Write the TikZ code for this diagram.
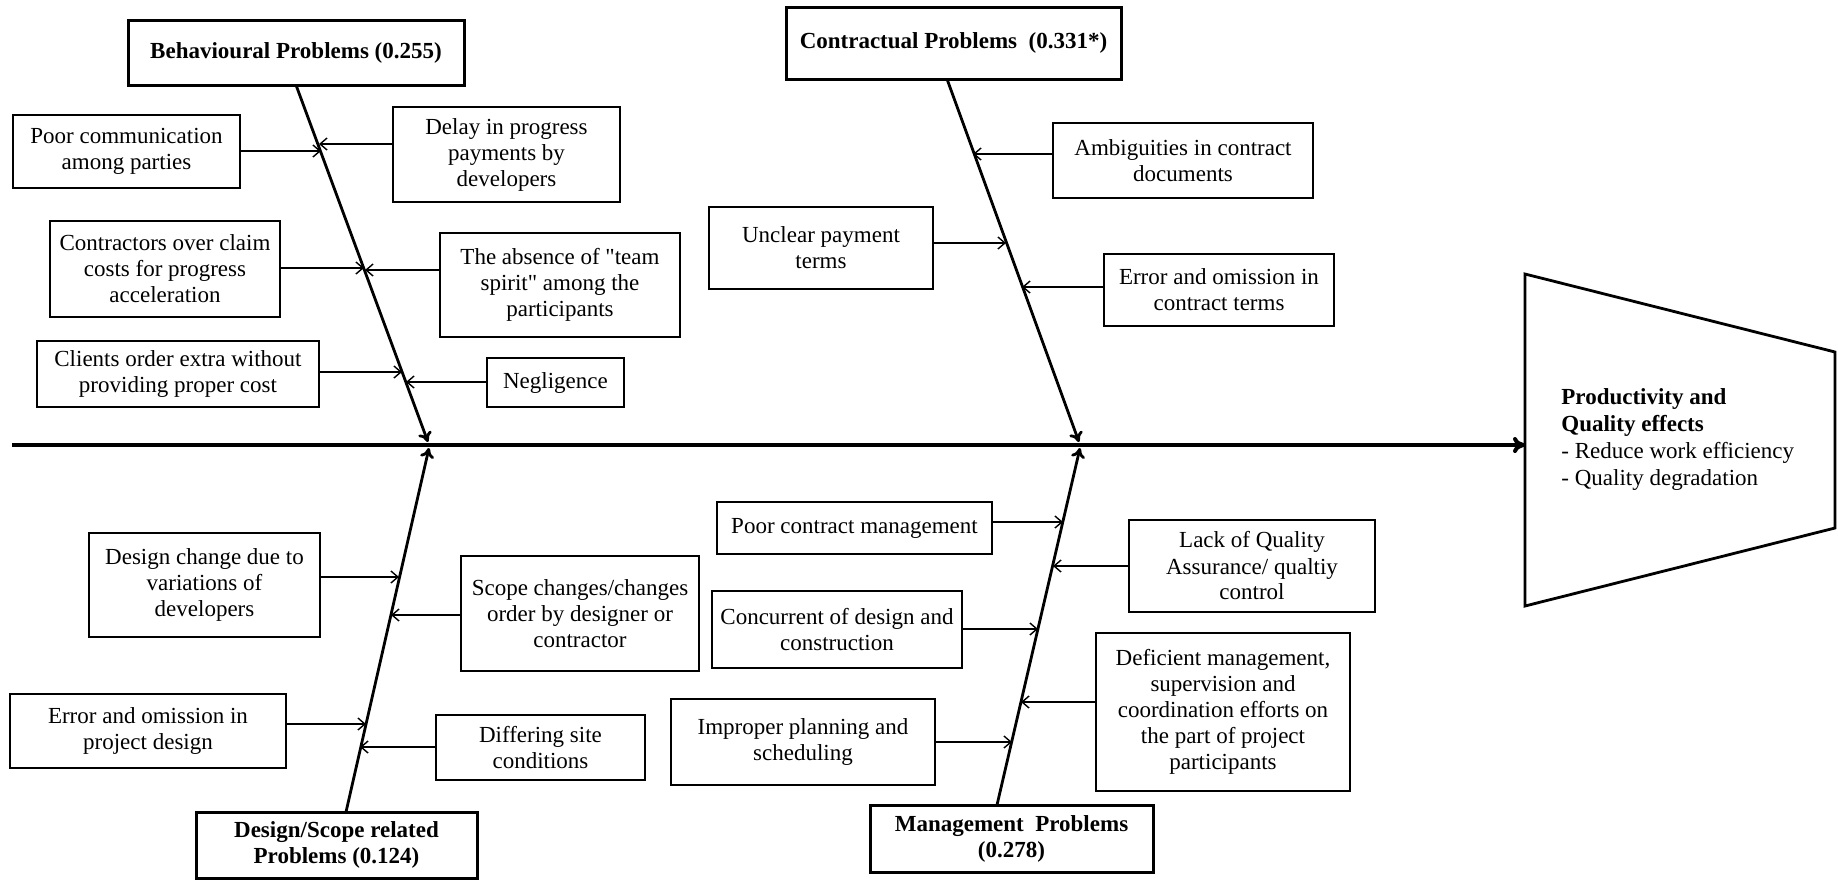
\documentclass[tikz,border=0pt]{standalone}
\usepackage{fontspec}
\setmainfont{Liberation Serif}[Ligatures=TeXOff]
\usetikzlibrary{arrows.meta}
% box drawn from its corners: style, name, x1, y1, x2, y2, text
\newcommand\fishbox[7]{%
  \pgfmathsetmacro\fbw{(#5-#3)*0.5}%
  \pgfmathsetmacro\fbh{(#6-#4)*0.5}%
  \node[#1, minimum width=\fbw pt, minimum height=\fbh pt] (#2) at ({(#3+#5)/2},{(#4+#6)/2}) {#7};}
\begin{document}
\begin{tikzpicture}[x=0.5pt,y=-0.5pt,
  txt/.style={font=\fontsize{11.5}{13}\selectfont, align=center},
  head/.style={draw, line width=1.5pt, align=center, inner sep=0pt, outer sep=0pt,
    font=\fontsize{11.5}{13}\selectfont\bfseries},
  cause/.style={txt, draw, line width=0.7pt, inner sep=0pt, outer sep=0pt},
  spine/.style={line width=2pt, -{To[length=6pt,width=8pt]}},
  bone/.style={line width=1.4pt, -{To[length=5pt,width=7pt]}},
  feed/.style={line width=0.7pt, -{Straight Barb[length=3.5pt,width=6pt]}},
]
\useasboundingbox (0,0) rectangle (1838,880);

% effect (fish head)
\draw[line width=1.4pt] (1525,274) -- (1835,352) -- (1835,528) -- (1525,606) -- cycle;
\coordinate (head) at (1525,445);
\node[font=\fontsize{11.5}{13.5}\selectfont, align=left, anchor=west, inner sep=0pt] (effect) at (1561,439)
  {\textbf{Productivity and}\\\textbf{Quality effects}\\- Reduce work efficiency\\- Quality degradation};

% spine
\coordinate (tail) at (12,445);
\draw[spine] (tail) -- (head);

% category headers
\fishbox{head}{behav}{128}{20}{464}{85}{Behavioural Problems (0.255)}
\fishbox{head}{contr}{786}{7}{1121}{79}{Contractual Problems~ (0.331*)}
\fishbox{head}{design}{196}{812}{477}{878}{Design/Scope related\\Problems (0.124)}
\fishbox{head}{mgmt}{870}{805}{1153}{872}{Management~ Problems\\(0.278)}

% bones
\coordinate (bjoin) at (428,442);
\coordinate (cstart) at (947,79);
\coordinate (cjoin) at (1079,442);
\coordinate (dstart) at (346,812);
\coordinate (djoin) at (429,448);
\coordinate (mstart) at (997,805);
\coordinate (mjoin) at (1080,448);
\draw[bone] (behav.south) -- (bjoin);
\draw[bone] (contr.south -| cstart) -- (cjoin);
\draw[bone] (design.north -| dstart) -- (djoin);
\draw[bone] (mgmt.north -| mstart) -- (mjoin);

% behavioural causes
\fishbox{cause}{pc}{13}{115}{240}{188}{Poor communication\\among parties}
\fishbox{cause}{dp}{393}{107}{620}{202}{Delay in progress\\payments by\\developers}
\fishbox{cause}{cc}{50}{221}{280}{317}{Contractors over claim\\costs for progress\\acceleration}
\fishbox{cause}{ts}{440}{233}{680}{337}{The absence of "team\\spirit" among the\\participants}
\fishbox{cause}{co}{37}{341}{319}{407}{Clients order extra without\\providing proper cost}
\fishbox{cause}{ng}{487}{358}{624}{407}{Negligence}
\coordinate (pcA) at (321,151);
\coordinate (dpA) at (319,144);
\coordinate (ccA) at (364,268);
\coordinate (tsA) at (365,270);
\coordinate (coA) at (402,372);
\coordinate (ngA) at (406,382);
\draw[feed] (pc.east |- pcA) -- (pcA);
\draw[feed] (dp.west |- dpA) -- (dpA);
\draw[feed] (cc.east |- ccA) -- (ccA);
\draw[feed] (ts.west |- tsA) -- (tsA);
\draw[feed] (co.east |- coA) -- (coA);
\draw[feed] (ng.west |- ngA) -- (ngA);

% contractual causes
\fishbox{cause}{amb}{1053}{123}{1313}{198}{Ambiguities in contract\\documents}
\fishbox{cause}{unc}{709}{207}{933}{289}{Unclear payment\\terms}
\fishbox{cause}{eoc}{1104}{254}{1334}{326}{Error and omission in\\contract terms}
\coordinate (ambA) at (973,154);
\coordinate (uncA) at (1006,243);
\coordinate (eocA) at (1022,287);
\draw[feed] (amb.west |- ambA) -- (ambA);
\draw[feed] (unc.east |- uncA) -- (uncA);
\draw[feed] (eoc.west |- eocA) -- (eocA);

% design/scope causes
\fishbox{cause}{dc}{89}{533}{320}{637}{Design change due to\\variations of\\developers}
\fishbox{cause}{sc}{461}{556}{699}{671}{Scope changes/changes\\order by designer or\\contractor}
\fishbox{cause}{ep}{10}{694}{286}{768}{Error and omission in\\project design}
\fishbox{cause}{ds}{436}{715}{645}{780}{Differing site\\conditions}
\coordinate (dcA) at (399,577);
\coordinate (scA) at (391,615);
\coordinate (epA) at (366,724);
\coordinate (dsA) at (360,747);
\draw[feed] (dc.east |- dcA) -- (dcA);
\draw[feed] (sc.west |- scA) -- (scA);
\draw[feed] (ep.east |- epA) -- (epA);
\draw[feed] (ds.west |- dsA) -- (dsA);

% management causes
\fishbox{cause}{pcm}{717}{502}{992}{554}{Poor contract management}
\fishbox{cause}{lq}{1129}{520}{1375}{612}{Lack of Quality\\Assurance/ qualtiy\\control}
\fishbox{cause}{cd}{712}{591}{962}{668}{Concurrent of design and\\construction}
\fishbox{cause}{df}{1096}{633}{1350}{791}{Deficient management,\\supervision and\\coordination efforts on\\the part of project\\participants}
\fishbox{cause}{ip}{671}{699}{935}{785}{Improper planning and\\scheduling}
\coordinate (pcmA) at (1063,522);
\coordinate (lqA) at (1053,566);
\coordinate (cdA) at (1038,629);
\coordinate (dfA) at (1021,702);
\coordinate (ipA) at (1012,742);
\draw[feed] (pcm.east |- pcmA) -- (pcmA);
\draw[feed] (lq.west |- lqA) -- (lqA);
\draw[feed] (cd.east |- cdA) -- (cdA);
\draw[feed] (df.west |- dfA) -- (dfA);
\draw[feed] (ip.east |- ipA) -- (ipA);
\end{tikzpicture}
\end{document}
